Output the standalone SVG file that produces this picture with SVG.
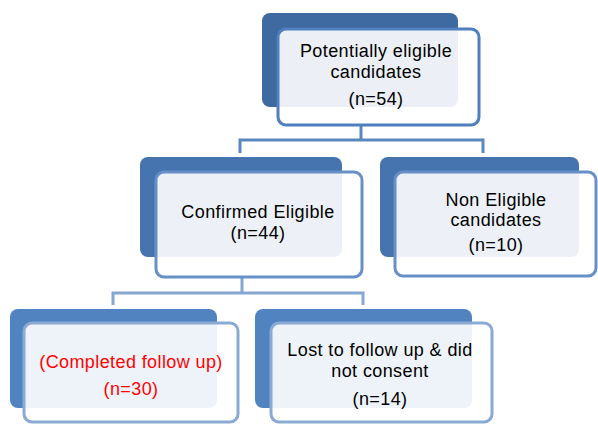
<svg xmlns="http://www.w3.org/2000/svg" width="598" height="425" viewBox="0 0 598 425">
<style>
.bg{fill:#ffffff}
.back{stroke:none}
.front{fill:#ffffff;fill-opacity:0.9;stroke-width:3}
.conn{fill:none;stroke-width:3}
text{font-family:"Liberation Sans",Arial,sans-serif;font-size:18px;text-anchor:middle;fill:#000000;letter-spacing:0.4px}
.red{fill:#ff0000}
</style>
<rect class="bg" x="0" y="0" width="598" height="425"/>
<g id="connectors">
<path class="conn" stroke="#5b87c0" d="M361,125 V140 M240,153 V140 H483 V153"/>
<path class="conn" stroke="#86a7d2" d="M242,277 V293 M113,305 V293 H363 V305"/>
</g>
<g id="node-potential">
<rect class="back" fill="#3e69a1" x="262" y="13" width="196" height="94" rx="8"/>
<rect class="front" stroke="#4f7fbd" x="278" y="29" width="201" height="96" rx="8"/>
<text x="376" y="57">Potentially eligible</text>
<text x="376" y="78">candidates</text>
<text x="376" y="105">(n=54)</text>
</g>
<g id="node-confirmed">
<rect class="back" fill="#4674ae" x="140" y="157" width="202" height="100" rx="8"/>
<rect class="front" stroke="#6690c6" x="156" y="172" width="206" height="105" rx="8"/>
<text x="258" y="218">Confirmed Eligible</text>
<text x="258" y="239">(n=44)</text>
</g>
<g id="node-noneligible">
<rect class="back" fill="#4674ae" x="380" y="157" width="199" height="100" rx="8"/>
<rect class="front" stroke="#6690c6" x="395" y="172" width="201" height="104" rx="8"/>
<text x="496" y="206">Non Eligible</text>
<text x="496" y="226">candidates</text>
<text x="496" y="251">(n=10)</text>
</g>
<g id="node-completed">
<rect class="back" fill="#5083c0" x="10" y="309" width="207" height="99" rx="8"/>
<rect class="front" stroke="#8aaad3" x="24" y="323" width="214" height="99" rx="8"/>
<text class="red" x="131" y="368">(Completed follow up)</text>
<text class="red" x="131" y="395">(n=30)</text>
</g>
<g id="node-lost">
<rect class="back" fill="#5083c0" x="255" y="309" width="217" height="99" rx="8"/>
<rect class="front" stroke="#8aaad3" x="271" y="323" width="221" height="99" rx="8"/>
<text x="380" y="356">Lost to follow up &amp; did</text>
<text x="380" y="377">not consent</text>
<text x="380" y="405">(n=14)</text>
</g>
</svg>
